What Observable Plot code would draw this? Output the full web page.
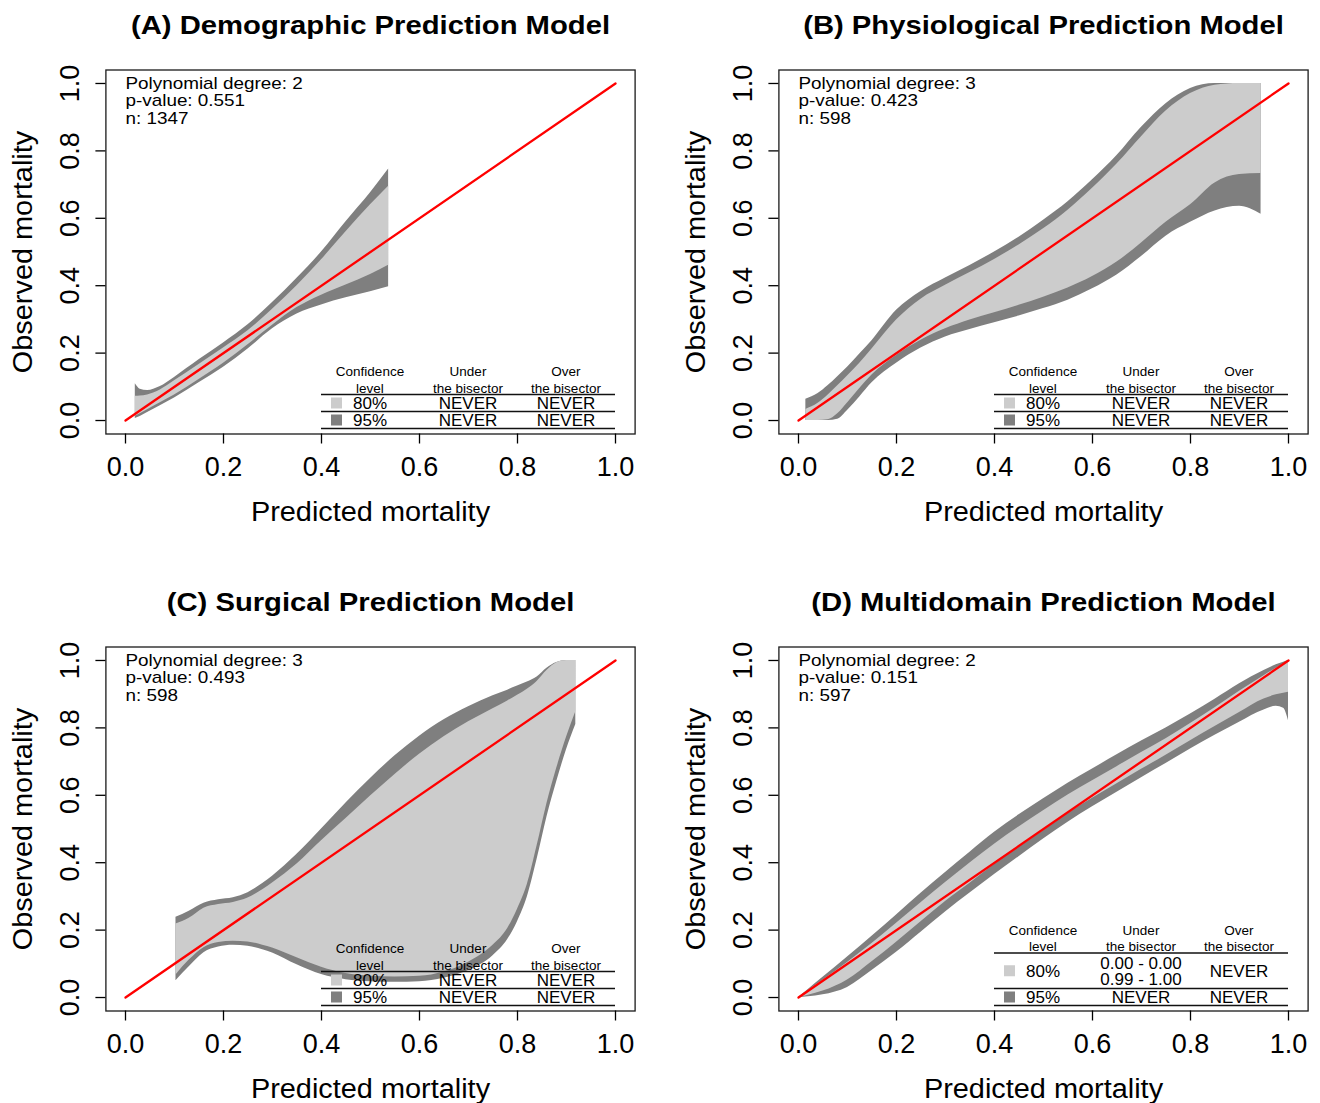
<!DOCTYPE html>
<html>
<head>
<meta charset="utf-8">
<script src="https://cdn.jsdelivr.net/npm/d3@7"></script>
<script src="https://cdn.jsdelivr.net/npm/@observablehq/plot@0.6"></script>
<style>
html, body { margin: 0; padding: 0; background: #fff; }
#root { position: relative; width: 1320px; height: 1103px; overflow: hidden; background: #fff; }
.panel { position: absolute; }
</style>
</head>
<body>
<div id="root"></div>
<script>
// ---------------- DATA ----------------
const axisTicks = [0, 0.2, 0.4, 0.6, 0.8, 1.0];
const bisectorX = [0, 1];
const bisectorY = [0, 1];
const xLabel = "Predicted mortality";
const yLabel = "Observed mortality";

const legendHeaders = [["Confidence", "level"], ["Under", "the bisector"], ["Over", "the bisector"]];
const legendLevels = ["80%", "95%"];

// (A) Demographic
const aTitle = "(A) Demographic Prediction Model";
const aDegree = 2, aPValue = "0.551", aN = 1347;
const aX    = [0.02, 0.03, 0.045, 0.07, 0.10, 0.15, 0.20, 0.25, 0.30, 0.35, 0.40, 0.45, 0.50, 0.537];
const aHi95 = [0.109, 0.093, 0.089, 0.100, 0.128, 0.180, 0.230, 0.284, 0.350, 0.422, 0.500, 0.590, 0.676, 0.746];
const aHi80 = [0.072, 0.073, 0.076, 0.090, 0.118, 0.166, 0.215, 0.266, 0.330, 0.400, 0.477, 0.560, 0.640, 0.695];
const aLo80 = [0.013, 0.020, 0.032, 0.052, 0.076, 0.122, 0.170, 0.225, 0.283, 0.335, 0.372, 0.402, 0.433, 0.461];
const aLo95 = [0.006, 0.012, 0.024, 0.043, 0.067, 0.112, 0.158, 0.212, 0.272, 0.316, 0.343, 0.364, 0.382, 0.397];
const aUnder = [["NEVER"], ["NEVER"]];
const aOver  = [["NEVER"], ["NEVER"]];

// (B) Physiological
const bTitle = "(B) Physiological Prediction Model";
const bDegree = 3, bPValue = "0.423", bN = 598;
const bX    = [0.015, 0.04, 0.06, 0.08, 0.10, 0.125, 0.15, 0.20, 0.25, 0.30, 0.35, 0.40, 0.45, 0.50, 0.55, 0.60, 0.65, 0.70, 0.75, 0.80, 0.85, 0.90, 0.944];
const bHi95 = [0.063, 0.080, 0.103, 0.130, 0.158, 0.197, 0.237, 0.327, 0.383, 0.423, 0.460, 0.500, 0.544, 0.594, 0.649, 0.714, 0.786, 0.870, 0.940, 0.985, 1.0, 1.0, 1.0];
const bHi80 = [0.033, 0.051, 0.075, 0.103, 0.132, 0.170, 0.212, 0.298, 0.360, 0.401, 0.439, 0.478, 0.521, 0.569, 0.624, 0.689, 0.761, 0.842, 0.918, 0.970, 0.995, 1.0, 1.0];
const bLo80 = [0, 0, 0.002, 0.020, 0.052, 0.095, 0.135, 0.193, 0.238, 0.272, 0.298, 0.320, 0.342, 0.366, 0.393, 0.427, 0.470, 0.527, 0.588, 0.640, 0.705, 0.730, 0.733];
const bLo95 = [0, 0, 0, 0.004, 0.030, 0.070, 0.112, 0.170, 0.215, 0.248, 0.270, 0.290, 0.310, 0.332, 0.357, 0.391, 0.432, 0.487, 0.547, 0.588, 0.622, 0.636, 0.612];
const bUnder = [["NEVER"], ["NEVER"]];
const bOver  = [["NEVER"], ["NEVER"]];

// (C) Surgical
const cTitle = "(C) Surgical Prediction Model";
const cDegree = 3, cPValue = "0.493", cN = 598;
const cX    = [0.103, 0.13, 0.16, 0.19, 0.22, 0.25, 0.28, 0.30, 0.35, 0.40, 0.45, 0.50, 0.55, 0.60, 0.65, 0.70, 0.75, 0.78, 0.80, 0.82, 0.84, 0.86, 0.88, 0.90, 0.919];
const cHi95 = [0.238, 0.256, 0.280, 0.290, 0.296, 0.311, 0.338, 0.360, 0.425, 0.500, 0.577, 0.650, 0.717, 0.775, 0.824, 0.863, 0.895, 0.912, 0.924, 0.936, 0.951, 0.977, 0.994, 1.0, 1.0];
const cHi80 = [0.218, 0.235, 0.265, 0.276, 0.282, 0.295, 0.320, 0.340, 0.396, 0.465, 0.531, 0.598, 0.662, 0.722, 0.774, 0.818, 0.857, 0.880, 0.897, 0.915, 0.938, 0.970, 0.993, 1.0, 1.0];
const cLo80 = [0.067, 0.111, 0.148, 0.163, 0.167, 0.165, 0.155, 0.147, 0.118, 0.090, 0.071, 0.063, 0.061, 0.063, 0.076, 0.105, 0.155, 0.205, 0.262, 0.335, 0.450, 0.575, 0.680, 0.772, 0.848];
const cLo95 = [0.050, 0.091, 0.133, 0.150, 0.155, 0.152, 0.142, 0.132, 0.097, 0.068, 0.053, 0.047, 0.045, 0.047, 0.057, 0.080, 0.124, 0.172, 0.225, 0.298, 0.410, 0.535, 0.640, 0.735, 0.810];
const cUnder = [["NEVER"], ["NEVER"]];
const cOver  = [["NEVER"], ["NEVER"]];

// (D) Multidomain
const dTitle = "(D) Multidomain Prediction Model";
const dDegree = 2, dPValue = "0.151", dN = 597;
const dX    = [0, 0.02, 0.05, 0.10, 0.15, 0.20, 0.25, 0.30, 0.35, 0.40, 0.45, 0.50, 0.55, 0.60, 0.65, 0.70, 0.75, 0.80, 0.85, 0.90, 0.95, 0.975, 0.99, 1.0];
const dHi95 = [0, 0.024, 0.060, 0.120, 0.182, 0.245, 0.309, 0.371, 0.431, 0.490, 0.542, 0.590, 0.636, 0.678, 0.720, 0.761, 0.800, 0.841, 0.885, 0.931, 0.970, 0.987, 0.995, 1.0];
const dHi80 = [0, 0.021, 0.051, 0.104, 0.160, 0.220, 0.281, 0.341, 0.399, 0.455, 0.506, 0.554, 0.601, 0.643, 0.685, 0.727, 0.768, 0.813, 0.860, 0.909, 0.955, 0.977, 0.989, 0.998];
const dLo80 = [0, 0.007, 0.019, 0.052, 0.106, 0.164, 0.225, 0.285, 0.339, 0.395, 0.446, 0.495, 0.545, 0.591, 0.634, 0.677, 0.719, 0.762, 0.804, 0.846, 0.886, 0.898, 0.903, 0.906];
const dLo95 = [0, 0.002, 0.008, 0.030, 0.080, 0.134, 0.194, 0.254, 0.310, 0.365, 0.418, 0.470, 0.520, 0.566, 0.609, 0.652, 0.694, 0.737, 0.778, 0.817, 0.853, 0.864, 0.858, 0.821];
const dUnder = [["0.00 - 0.00", "0.99 - 1.00"], ["NEVER"]];
const dOver  = [["NEVER"], ["NEVER"]];

// ---------------- STYLE / LAYOUT ----------------
const FONT = "'Liberation Sans', Arial, Helvetica, sans-serif";
const LIGHT = "#cccccc";
const DARK = "#7f7f7f";
const PANEL_W = 647, PANEL_H = 526;
const M = {left: 105.4, right: 12.4, top: 69.5, bottom: 92.5};
const offsets = [[0, 0], [673, 0], [0, 577], [673, 577]];
const legendSpan = [0.4, 1.0];          // legend table spans these x-units
const legendCols = [0.5, 0.7, 0.9];     // column centres in x-units

function legendTable(under, over) {
  return (index, scales, values, dims) => {
    const x = scales.x;
    const fb = dims.height - dims.marginBottom;
    const g = d3.create("svg:g").attr("font-family", FONT).attr("fill", "black");
    const x0 = x(legendSpan[0]), x1 = x(legendSpan[1]);
    const cols = legendCols.map(x);
    const n = legendLevels.length;
    let yb = fb - 5;
    const lines = [yb];
    const centers = [];
    for (let r = n - 1; r >= 0; r--) {
      const k = Math.max(under[r].length, over[r].length);
      const h = 17 + 18.5 * (k - 1);
      centers[r] = yb - h / 2;
      yb -= h;
      lines.push(yb);
    }
    const top = yb;
    legendHeaders.forEach((hdr, c) => {
      hdr.forEach((t, j) => {
        g.append("text").attr("x", cols[c]).attr("y", top - 1.8 - (hdr.length - 1 - j) * 16.3)
          .attr("text-anchor", "middle").attr("font-size", 13.5).text(t);
      });
    });
    lines.forEach(ly => g.append("line").attr("x1", x0).attr("x2", x1).attr("y1", ly).attr("y2", ly)
      .attr("stroke", "#111").attr("stroke-width", 1.5));
    const cellText = (cx, cy, arr) => arr.forEach((t, i) => {
      g.append("text").attr("x", cx).attr("y", cy + (i - (arr.length - 1) / 2) * 16.6 + 6.2)
        .attr("text-anchor", "middle").attr("font-size", 17).text(t);
    });
    legendLevels.forEach((lev, r) => {
      g.append("rect").attr("x", cols[0] - 39).attr("y", centers[r] - 5.5).attr("width", 11).attr("height", 11)
        .attr("fill", r === 0 ? LIGHT : DARK);
      cellText(cols[0], centers[r], [lev]);
      cellText(cols[1], centers[r], under[r]);
      cellText(cols[2], centers[r], over[r]);
    });
    return g.node();
  };
}

function stretchTexts(svg, titles) {
  svg.querySelectorAll("text").forEach(t => {
    const s = t.textContent;
    let k = 1;
    if (titles.includes(s)) k = 1.17;
    else if (s.startsWith("Polynomial")) k = 1.18;
    else if (s === xLabel || s === yLabel) k = 1.07;
    if (k !== 1) {
      const tr = t.getAttribute("transform");
      if (tr) t.setAttribute("transform", tr + ` scale(${k},1)`);
    }
  });
}

const specs = [
  {title: aTitle, deg: aDegree, p: aPValue, n: aN, x: aX, hi95: aHi95, hi80: aHi80, lo80: aLo80, lo95: aLo95, under: aUnder, over: aOver},
  {title: bTitle, deg: bDegree, p: bPValue, n: bN, x: bX, hi95: bHi95, hi80: bHi80, lo80: bLo80, lo95: bLo95, under: bUnder, over: bOver},
  {title: cTitle, deg: cDegree, p: cPValue, n: cN, x: cX, hi95: cHi95, hi80: cHi80, lo80: cLo80, lo95: cLo95, under: cUnder, over: cOver},
  {title: dTitle, deg: dDegree, p: dPValue, n: dN, x: dX, hi95: dHi95, hi80: dHi80, lo80: dLo80, lo95: dLo95, under: dUnder, over: dOver}
];
const allTitles = specs.map(s => s.title);
const fmt = d3.format(".1f");

const root = document.getElementById("root");
specs.forEach((s, i) => {
  const rows = s.x.map((x, j) => ({x, lo95: s.lo95[j], lo80: s.lo80[j], hi80: s.hi80[j], hi95: s.hi95[j]}));
  const diag = bisectorX.map((x, j) => ({x, y: bisectorY[j]}));
  const annot = `Polynomial degree: ${s.deg}\np-value: ${s.p}\nn: ${s.n}`;
  const svg = Plot.plot({
    width: PANEL_W, height: PANEL_H,
    marginLeft: M.left, marginRight: M.right, marginTop: M.top, marginBottom: M.bottom,
    x: {domain: [-0.04, 1.04]},
    y: {domain: [-0.04, 1.04]},
    style: {fontFamily: FONT, background: "transparent", overflow: "visible", color: "black"},
    marks: [
      Plot.areaY(rows, {x: "x", y1: "lo95", y2: "hi95", fill: DARK, curve: "monotone-x"}),
      Plot.areaY(rows, {x: "x", y1: "lo80", y2: "hi80", fill: LIGHT, curve: "monotone-x"}),
      Plot.line(diag, {x: "x", y: "y", stroke: "#ff0000", strokeWidth: 2.3}),
      legendTable(s.under, s.over),
      Plot.frame({stroke: "#1a1a1a", strokeWidth: 1.3}),
      Plot.axisX(axisTicks, {tickSize: 10, tickPadding: 13, tickFormat: fmt, fontSize: 27, label: null, strokeWidth: 1.3}),
      Plot.axisY(axisTicks, {tickSize: 10, tickPadding: 17.4, tickRotate: -90, tickFormat: fmt, fontSize: 27, label: null, strokeWidth: 1.3}),
      Plot.text([s.title], {text: d => d, frameAnchor: "top", lineAnchor: "bottom", dy: -36.2, fontSize: 25, fontWeight: "bold"}),
      Plot.text([annot], {text: d => d, frameAnchor: "top-left", textAnchor: "start", lineAnchor: "top", dx: 19.6, dy: 6.4, fontSize: 16, lineHeight: 1.1}),
      Plot.text([xLabel], {text: d => d, frameAnchor: "bottom", lineAnchor: "bottom", dy: 87.2, fontSize: 27}),
      Plot.text([yLabel], {text: d => d, frameAnchor: "left", rotate: -90, textAnchor: "middle", lineAnchor: "bottom", dx: -73.7, fontSize: 27})
    ]
  });
  stretchTexts(svg, allTitles);
  svg.classList.add("panel");
  svg.style.left = offsets[i][0] + "px";
  svg.style.top = offsets[i][1] + "px";
  svg.style.position = "absolute";
  root.appendChild(svg);
});
</script>
</body>
</html>
